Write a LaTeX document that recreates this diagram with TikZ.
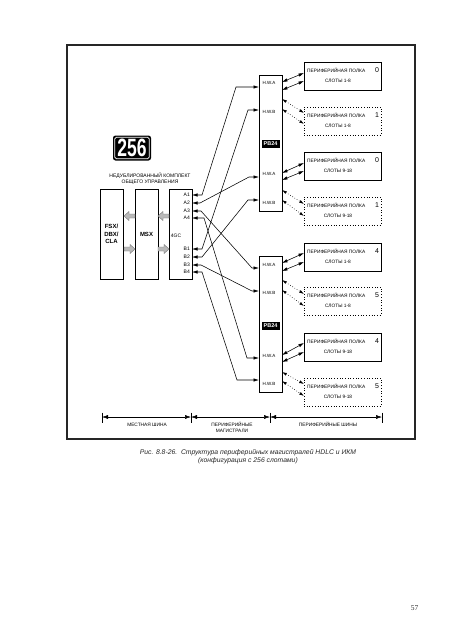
\documentclass[tikz,border=0pt]{standalone}
\usepackage{fontspec}
\usepackage{graphicx}
\setmainfont{Liberation Sans}
\newfontfamily\pagefont{Liberation Serif}
\usetikzlibrary{arrows.meta,calc}
\tikzset{
  frame/.style={line width=1.7pt, draw=black!85},
  blockbox/.style={draw, line width=0.6pt, inner sep=0, outer sep=0, minimum width=23, anchor=north west},
  sconn/.style={line width=0.55pt, {Latex[length=5.5pt,width=3.4pt]}-{Latex[length=5.5pt,width=3.4pt]}},
  dconn/.style={line width=0.6pt, dotted, {Latex[length=4.8pt,width=3pt]}-{Latex[length=4.8pt,width=3pt]}},
  dimarr/.style={line width=0.5pt, {Latex[length=6pt,width=4pt]}-{Latex[length=6pt,width=4pt]}},
  tinytext/.style={font=\fontsize{4.8}{5.8}\selectfont, inner sep=0},
  hwtext/.style={font=\fontsize{4.5}{5}\selectfont, inner sep=0},
  porttext/.style={font=\fontsize{5}{5}\selectfont, inner sep=0, anchor=east},
  garrow/.style={fill=gray!55, draw=black!55, line width=0.4pt},
  solidshelf/.style={draw, line width=0.6pt},
  dotshelf/.style={draw, dotted, line width=0.7pt},
  leftarr/.pic={\draw[garrow] (0,0) -- (5,-4.5) -- (5,-2) -- (11,-2) -- (11,2) -- (5,2) -- (5,4.5) -- cycle;},
  rightarr/.pic={\draw[garrow] (0,0) -- (-5,-4.5) -- (-5,-2) -- (-11,-2) -- (-11,2) -- (-5,2) -- (-5,4.5) -- cycle;}
}
\newcommand\shelfbox[5]{%
  \node[#5, minimum width=77, minimum height=28, anchor=north west, inner sep=0, outer sep=0] (#1) at (304,#2) {};
  \node[tinytext, anchor=base west] (#1a) at ($(#1.north west)+(3,10)$) {ПЕРИФЕРИЙНАЯ ПОЛКА};
  \node[font=\fontsize{7}{7}\selectfont, inner sep=0, anchor=base] (#1n) at ($(#1.north west)+(73,10.5)$) {#3};
  \node[tinytext, anchor=base] (#1b) at ($(#1.north west)+(34,20)$) {СЛОТЫ #4};
}
\begin{document}
\begin{tikzpicture}[x=1pt,y=-1pt]
\useasboundingbox[fill=white] (0,0) rectangle (452,640);
% frame
\draw[frame] (67,45) rectangle (415,439);

% 256 logo
\node[fill=black, rounded corners=2.5, minimum width=38, minimum height=25, inner sep=0] (logo) at (132,148) {};
\draw[white, line width=0.7pt, rounded corners=1.5] ($(logo.south west)+(2,-2)$) rectangle ($(logo.north east)+(-2,2)$);
\node[text=white, font=\bfseries\fontsize{25}{25}\selectfont, inner sep=0] (logotext) at (logo.center) {\scalebox{0.7}[1]{256}};
\node[tinytext, align=center, font=\fontsize{5}{6}\selectfont] (ctl) at (150,179) {НЕДУБЛИРОВАННЫЙ КОМПЛЕКТ\\ОБЩЕГО УПРАВЛЕНИЯ};

% left blocks
\node[blockbox, minimum height=90] (fsx) at (100,189) {};
\node[blockbox, minimum height=90] (msx) at (135,189) {};
\node[blockbox, minimum height=90] (gc) at (169,189) {};
\node[font=\bfseries\fontsize{6}{7.5}\selectfont, align=center, inner sep=0] (fsxt) at (fsx.center) {FSX/\\DBX/\\CLA};
\node[font=\bfseries\fontsize{6}{7}\selectfont, inner sep=0] (msxt) at (msx.center) {MSX};
\node[font=\fontsize{5}{6}\selectfont, inner sep=0] (gct) at (176,236) {4GC};

\pic at (124,216) {leftarr};
\pic at (158,216) {leftarr};
\pic at (135,249) {rightarr};
\pic at (169,249) {rightarr};

% port labels
\node[porttext] (lA1) at (190,195) {A1};
\node[porttext] (lA2) at (190,203) {A2};
\node[porttext] (lA3) at (190,211) {A3};
\node[porttext] (lA4) at (190,218) {A4};
\node[porttext] (lB1) at (190,249) {B1};
\node[porttext] (lB2) at (190,257) {B2};
\node[porttext] (lB3) at (190,265) {B3};
\node[porttext] (lB4) at (190,272) {B4};
\coordinate (pA1) at (192,195);
\coordinate (pA2) at (192,203);
\coordinate (pA3) at (192,211);
\coordinate (pA4) at (192,218);
\coordinate (pB1) at (192,249);
\coordinate (pB2) at (192,257);
\coordinate (pB3) at (192,265);
\coordinate (pB4) at (192,272);

% PB24 boxes
\node[blockbox, minimum height=136] (pbU) at (259,75) {};
\node[blockbox, minimum height=136] (pbL) at (259,256) {};
\node[fill=black, text=white, font=\bfseries\fontsize{5.5}{6}\selectfont, minimum width=18, minimum height=8, inner sep=0] (pbUl) at (270.5,144) {PB24};
\node[fill=black, text=white, font=\bfseries\fontsize{5.5}{6}\selectfont, minimum width=18, minimum height=8, inner sep=0] (pbLl) at (270.5,326) {PB24};
\node[hwtext] (uA1) at (269,83) {H.W.A};
\node[hwtext] (uB1) at (269,112) {H.W.B};
\node[hwtext] (uA2) at (269,174) {H.W.A};
\node[hwtext] (uB2) at (269,203) {H.W.B};
\node[hwtext] (lA1h) at (269,265) {H.W.A};
\node[hwtext] (lB1h) at (269,293) {H.W.B};
\node[hwtext] (lA2h) at (269,356) {H.W.A};
\node[hwtext] (lB2h) at (269,384) {H.W.B};
\coordinate (hUA1) at (259,87);
\coordinate (hUB1) at (259,110);
\coordinate (hUA2) at (259,177);
\coordinate (hUB2) at (259,200);
\coordinate (hLA1) at (259,268);
\coordinate (hLB1) at (259,291);
\coordinate (hLA2) at (259,358);
\coordinate (hLB2) at (259,380);

% 4GC <-> PB24 connectors
\draw[sconn] (pA1) -- ++(10,0) -- (236,87) -- (hUA1);
\draw[sconn] (pA2) -- ++(8,0) -- (249,177) -- (hUA2);
\draw[sconn] (pA3) -- ++(9,0) -- (252,268) -- (hLA1);
\draw[sconn] (pA4) -- ++(12,0) -- (247,358) -- (hLA2);
\draw[sconn] (pB1) -- ++(10,0) -- (248,110) -- (hUB1);
\draw[sconn] (pB2) -- ++(10,0) -- (248,200) -- (hUB2);
\draw[sconn] (pB3) -- ++(9,0) -- (252,291) -- (hLB1);
\draw[sconn] (pB4) -- ++(10,0) -- (237,380) -- (hLB2);

% shelves
\shelfbox{s1}{62}{0}{1-8}{solidshelf}
\shelfbox{s2}{107}{1}{1-8}{dotshelf}
\shelfbox{s3}{152}{0}{9-18}{solidshelf}
\shelfbox{s4}{197}{1}{9-18}{dotshelf}
\shelfbox{s5}{243}{4}{1-8}{solidshelf}
\shelfbox{s6}{287}{5}{1-8}{dotshelf}
\shelfbox{s7}{333}{4}{9-18}{solidshelf}
\shelfbox{s8}{378}{5}{9-18}{dotshelf}

% PB24 <-> shelf connectors
\draw[sconn] (pbU.east |- 0,82) -- (s1.west |- 0,73);
\draw[sconn] (pbU.east |- 0,90) -- (s1.west |- 0,81);
\draw[dconn] (pbU.east |- 0,99) -- (s2.west |- 0,113);
\draw[dconn] (pbU.east |- 0,109) -- (s2.west |- 0,124);
\draw[sconn] (pbU.east |- 0,173) -- (s3.west |- 0,163);
\draw[sconn] (pbU.east |- 0,180) -- (s3.west |- 0,171);
\draw[dconn] (pbU.east |- 0,190) -- (s4.west |- 0,204);
\draw[dconn] (pbU.east |- 0,200) -- (s4.west |- 0,216);
\draw[sconn] (pbL.east |- 0,263) -- (s5.west |- 0,253);
\draw[sconn] (pbL.east |- 0,271) -- (s5.west |- 0,262);
\draw[dconn] (pbL.east |- 0,280) -- (s6.west |- 0,294);
\draw[dconn] (pbL.east |- 0,290) -- (s6.west |- 0,306);
\draw[sconn] (pbL.east |- 0,355) -- (s7.west |- 0,343);
\draw[sconn] (pbL.east |- 0,362) -- (s7.west |- 0,352);
\draw[dconn] (pbL.east |- 0,372) -- (s8.west |- 0,384);
\draw[dconn] (pbL.east |- 0,381) -- (s8.west |- 0,396);

% dimension line
\coordinate (d0) at (102,417);
\coordinate (d1) at (191,417);
\coordinate (d2) at (270,417);
\coordinate (d3) at (382,417);
\foreach \d in {d0,d1,d2,d3} \draw[line width=0.55pt] ($(\d)+(0,-4.5)$) -- ($(\d)+(0,5.5)$);
\draw[dimarr] (d0) -- (d1);
\draw[dimarr] (d1) -- (d2);
\draw[dimarr] (d2) -- (d3);
\node[tinytext] (dl1) at (147,424.5) {МЕСТНАЯ ШИНА};
\node[tinytext, align=center] (dl2) at (232,427) {ПЕРИФЕРИЙНЫЕ\\МАГИСТРАЛИ};
\node[tinytext] (dl3) at (328,424.5) {ПЕРИФЕРИЙНЫЕ ШИНЫ};

% caption
\node[font=\itshape\fontsize{6.8}{7.6}\selectfont, text=black!85, align=center, inner sep=0] (cap) at (248,456.5) {Рис. 8.8-26.\ \ Структура периферийных магистралей HDLC и ИКМ\\(конфигурация с 256 слотами)};

% page number
\node[font=\pagefont\fontsize{7.5}{8}\selectfont, text=black!80, inner sep=0] (pg) at (414.5,608) {57};
\end{tikzpicture}
\end{document}
